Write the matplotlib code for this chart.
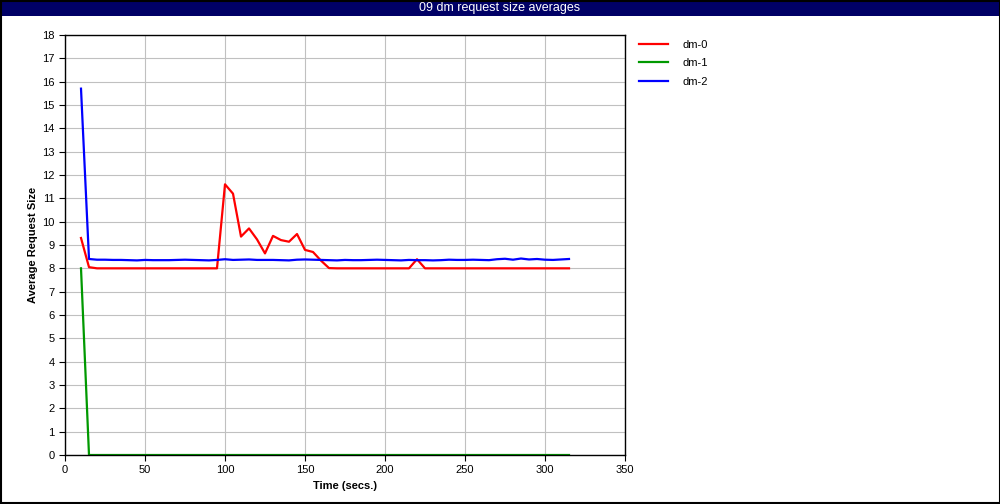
import matplotlib
matplotlib.use("Agg")
import matplotlib.pyplot as plt
from matplotlib.patches import Rectangle

plt.rcParams['font.family'] = ['Liberation Sans', 'DejaVu Sans']

time = list(range(10, 320, 5))

dm0 = [9.3, 8.05, 8.0, 8.0, 8.0, 8.0, 8.0, 8.0, 8.0, 8.0, 8.0, 8.0, 8.0, 8.0, 8.0, 8.0, 8.0, 8.0,
       11.6, 11.2, 9.36, 9.71, 9.24, 8.64, 9.39, 9.21, 9.14, 9.47, 8.79, 8.7, 8.33, 8.01,
       8.0, 8.0, 8.0, 8.0, 8.0, 8.0, 8.0, 8.0, 8.0, 8.0, 8.39, 8.0, 8.0, 8.0, 8.0, 8.0,
       8.0, 8.0, 8.0, 8.0, 8.0, 8.0, 8.0, 8.0, 8.0, 8.0, 8.0, 8.0, 8.0, 8.0]

dm1 = [8.0] + [0.0] * 61

dm2 = [15.7, 8.4, 8.37, 8.37, 8.36, 8.36, 8.35, 8.34, 8.36, 8.35, 8.35, 8.35, 8.36, 8.37, 8.36, 8.35, 8.34, 8.36,
       8.39, 8.36, 8.37, 8.38, 8.36, 8.36, 8.36, 8.35, 8.34, 8.37, 8.38, 8.37, 8.36, 8.35,
       8.34, 8.36, 8.35, 8.35, 8.36, 8.37, 8.36, 8.35, 8.34, 8.36, 8.35, 8.35, 8.34, 8.35, 8.37, 8.36,
       8.36, 8.37, 8.36, 8.35, 8.39, 8.41, 8.37, 8.42, 8.38, 8.4, 8.37, 8.36, 8.38, 8.4]

series = [("dm-0", dm0, "#ff0000"), ("dm-1", dm1, "#009900"), ("dm-2", dm2, "#0000ff")]

fig = plt.figure(figsize=(10, 5.04), dpi=100)

# title bar + border
fig.patches.append(Rectangle((0, 0.969), 1, 0.031, transform=fig.transFigure,
                             facecolor="#000066", edgecolor="none", zorder=0))
fig.patches.append(Rectangle((0.0005, 0.001), 0.999, 0.998, transform=fig.transFigure,
                             facecolor="none", edgecolor="black", lw=1.5, zorder=5))
fig.text(0.5, 0.985, "09 dm request size averages", color="white", ha="center", va="center", fontsize=9)

ax = fig.add_axes([0.065, 0.0972, 0.56, 0.8334])
for name, vals, col in series:
    ax.plot(time, vals, color=col, lw=1.6, label=name)

ax.set_xlim(0, 350)
ax.set_ylim(0, 18)
ax.set_xticks(range(0, 351, 50))
ax.set_yticks(range(0, 19, 1))
ax.grid(True, color="#c0c0c0", lw=0.8)
ax.set_axisbelow(True)
ax.tick_params(labelsize=8, length=4, direction="out", color="black")
for s in ax.spines.values():
    s.set_linewidth(1.0)
ax.set_xlabel("Time (secs.)", fontsize=8, fontweight="bold", labelpad=4)
ax.set_ylabel("Average Request Size", fontsize=8, fontweight="bold", labelpad=3)

ax.legend(loc="upper left", bbox_to_anchor=(1.008, 1.012), frameon=False, fontsize=8,
          handlelength=2.6, handletextpad=1.3, labelspacing=0.75)

fig.savefig("out.png", dpi=100)
